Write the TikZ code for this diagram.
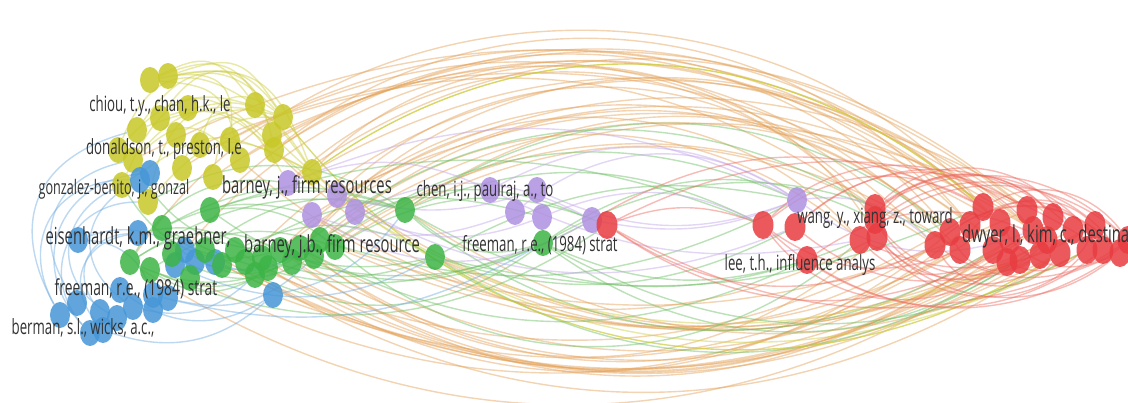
\documentclass[tikz,border=0pt]{standalone}
\usepackage{fontspec}
\newfontfamily\vosfont[FakeStretch=0.63]{Open Sans}
\usepackage{tikz}
\usetikzlibrary{shapes.geometric}

\definecolor{vYel}{RGB}{200,200,40}
\definecolor{vGrn}{RGB}{60,180,70}
\definecolor{vBlu}{RGB}{70,150,215}
\definecolor{vPur}{RGB}{175,145,225}
\definecolor{vRed}{RGB}{232,60,65}
\definecolor{eYel}{RGB}{205,205,60}
\definecolor{eOrg}{RGB}{228,160,85}
\definecolor{eGrn}{RGB}{105,190,95}
\definecolor{eBlu}{RGB}{110,170,225}
\definecolor{ePur}{RGB}{195,165,235}
\definecolor{eRed}{RGB}{238,105,95}

\pgfdeclarelayer{bg}
\pgfdeclarelayer{edges}
\pgfsetlayers{bg,edges,main}

\begin{document}
\begin{tikzpicture}[x=1pt, y=-1pt,
  dot/.style={ellipse, inner sep=0pt, minimum width=20pt, minimum height=26pt, fill opacity=.85},
  yel/.style={dot, fill=vYel}, grn/.style={dot, fill=vGrn}, blu/.style={dot, fill=vBlu},
  pur/.style={dot, fill=vPur}, red/.style={dot, fill=vRed, minimum width=21pt, minimum height=28pt},
  edge/.style={line width=1.4pt, opacity=.45},
  eyel/.style={edge, draw=eYel}, eorg/.style={edge, draw=eOrg}, egrn/.style={edge, draw=eGrn},
  eblu/.style={edge, draw=eBlu}, epur/.style={edge, draw=ePur}, ered/.style={edge, draw=eRed},
  lbl/.style={font=\vosfont\fontsize{21}{21}\selectfont, text=black!80, inner sep=0pt},
  biglbl/.style={lbl, font=\vosfont\fontsize{23.5}{23.5}\selectfont}]
\begin{pgfonlayer}{bg}
\fill[white] (0,0) rectangle (1128,403);
\end{pgfonlayer}
\useasboundingbox (0,0) rectangle (1128,403);

% clusters
\foreach \n/\x/\y in {y1/150/80, y2/168/76, y3/137/130, y4/160/118, y5/188/108, y6/283/117,
    y7/272/135, y8/274/150, y9/133/160, y10/182/168, y11/213/177, y12/240/160, y13/312/172,
    y14/122/185, y15/148/202, y16/230/140, y17/200/145, y18/255/105, y19/176/135, y20/118/150}
  \node[yel] (\n) at (\x,\y) {};
\foreach \n/\x/\y in {b1/78/240, b2/140/180, b3/150/173, b4/138/233, b5/175/265, b6/195/262,
    b7/215/262, b8/60/315, b9/77/303, b10/90/333, b11/103/330, b12/117/318, b13/133/307,
    b14/153/310, b15/153/295, b16/273/295, b17/185/250, b18/168/298, b19/120/290, b20/100/312}
  \node[blu] (\n) at (\x,\y) {};
\foreach \n/\x/\y in {g1/210/210, g2/162/228, g3/130/262, g4/150/270, g5/190/278, g6/222/265,
    g7/245/262, g8/262/258, g9/280/250, g10/300/248, g11/320/240, g12/335/247, g13/405/210,
    g14/435/257, g15/543/243, g16/255/275, g17/172/254, g18/205/250, g19/235/250, g20/268/268,
    g21/292/262, g22/314/256}
  \node[grn] (\n) at (\x,\y) {};
\foreach \n/\x/\y in {p1/288/183, p2/312/215, p3/337/195, p4/355/212, p5/490/190, p6/515/212,
    p7/537/190, p8/542/217, p9/592/220, p10/797/200}
  \node[pur] (\n) at (\x,\y) {};
\foreach \n/\x/\y in {r1/607/225, r2/763/225, r3/795/227, r4/807/260, r5/860/240, r6/875/220,
    r7/935/245, r8/960/250, r9/983/207, r10/1000/223, r11/993/250, r12/1007/262, r13/1020/260,
    r14/1033/230, r15/1047/240, r16/1060/253, r17/1073/230, r18/1087/250, r19/1103/250,
    r20/1120/253, r21/1128/240, r22/1027/210, r23/1053/217, r24/877/237, r25/1095/225,
    r26/950/232, r27/970/225, r28/1010/240, r29/875/208, r30/1040/255}
  \node[red] (\n) at (\x,\y) {};

% labels
\node[lbl] (lChiou) at (160,106) {chiou, t.y., chan, h.k., le};
\node[lbl] (lDonald) at (164,149) {donaldson, t., preston, l.e};
\node[lbl, font=\vosfont\fontsize{20}{20}\selectfont] (lGonz) at (114,189) {gonzalez-benito, j., gonzal};
\node[biglbl] (lBarJ) at (307,187) {barney, j., firm resources};
\node[biglbl] (lEisen) at (138,238) {eisenhardt, k.m., graebner,};
\node[biglbl] (lBarJB) at (332,246) {barney, j.b., firm resource};
\node[lbl] (lChen) at (485,191) {chen, i.j., paulraj, a., to};
\node[lbl] (lFreeM) at (540,245) {freeman, r.e., (1984) strat};
\node[lbl, font=\vosfont\fontsize{22}{22}\selectfont] (lFreeL) at (136,289) {freeman, r.e., (1984) strat};
\node[lbl] (lBerman) at (83,328) {berman, s.l., wicks, a.c.,};
\node[lbl] (lWang) at (875,218) {wang, y., xiang, z., toward};
\node[lbl] (lLee) at (800,265) {lee, t.h., influence analys};
\node[biglbl, anchor=west] (lDwyer) at (962,236) {dwyer, l., kim, c., destina};

\begin{pgfonlayer}{edges}
% long arcs over the top
\foreach \a/\b/\t in {y13/r14/34, p1/r22/38, p1/r6/46, g9/r14/36, g9/r26/42, g11/r10/32,
    g11/r5/40, g13/r7/30, g13/r27/36, p3/r14/28, p3/r29/44, y8/r10/38, y8/r27/44, g12/r22/30,
    g10/r9/46, g22/r8/34, p2/r23/32, p4/r26/38, y7/r9/30, y12/r22/34, y16/r7/36, y6/r29/26,
    y11/r8/40, g7/r14/44, g1/r26/48, y13/r24/52, g21/r5/50, y10/r10/36, y17/r13/30, g3/r9/52,
    b17/r27/48, y9/r22/30}
  \draw[eorg] (\a) to[bend left=\t] (\b);
% long arcs underneath
\foreach \a/\b/\t in {g9/r14/-32, g7/r9/-28, g10/r28/-30, g14/r7/-30, b16/r10/-26, g8/r23/-34,
    g12/r17/-24, y13/r13/-30, g6/r15/-28, g16/r16/-32, g11/r22/-22, b7/r16/-26, g9/r11/-36,
    p2/r25/-28, g14/r12/-24, g5/r8/-28, y12/r24/-34, g13/r18/-30, g3/r12/-33, g20/r26/-36,
    g21/r28/-34, g19/r30/-30, g22/r24/-40, g10/r27/-38, y8/r8/-36, g18/r13/-28}
  \draw[eorg] (\a) to[bend left=\t] (\b);
\foreach \a/\b/\t in {g14/r13/-32, g15/r15/-36, g13/r11/-34, g12/r5/-40, g15/r18/-28}
  \draw[egrn] (\a) to[bend left=\t] (\b);
\draw[eyel, opacity=.8] (y13) to[bend left=38] (r9);
\draw[eyel, opacity=.7] (y6) to[bend left=-42] (r16);
\draw[eyel] (y8) to[bend left=-30] (r13);
\draw[eyel] (y7) to[bend left=-36] (r18);
% middle
\foreach \a/\b/\t in {g13/r2/24, g15/r4/-20, g14/r3/-22, g11/p9/28, g9/g15/-24, g1/g13/18,
    g13/r5/-26, g14/p10/20, g15/r6/30, g8/g14/-20, g12/r1/26, g10/r4/-26, g3/g13/22, g2/g15/-24,
    g15/r8/30, g14/r9/-18, g1/r2/20, g16/g15/-30, g11/p10/-22, g13/g15/-30, g6/p8/24, g4/r1/-28,
    g10/r29/34, g22/p10/30, g13/r26/36, g19/g14/26, g21/p9/-20}
  \draw[egrn] (\a) to[bend left=\t] (\b);
\foreach \a/\b/\t in {p1/p5/22, p3/p7/-16, p4/p9/26, p2/p6/-20, p5/p10/30, p7/p10/-22, p8/r2/24,
    p6/p10/36, p9/p10/-16, p1/p10/24, p4/p8/-22, p3/r3/-26, p10/r7/24, p10/r14/-28, p2/p9/-30,
    p5/r5/-18}
  \draw[epur] (\a) to[bend left=\t] (\b);
% right cluster
\foreach \a/\b/\t in {r2/r14/46, r2/r20/-38, r3/r17/42, r4/r19/-34, r5/r21/40, r6/r16/-48,
    r2/r9/34, r3/r13/-30, r5/r25/-28, r7/r20/44, r7/r21/-34, r4/r15/30, r1/r2/20, r1/r7/-30,
    r2/r8/-28, r6/r23/48, r26/r20/40, r5/r11/-40, r3/r22/38, r2/r12/-44, r8/r25/50, r10/r21/-50,
    r1/r14/-34, r1/r19/30, p9/r9/28, r1/r20/-26, r9/r21/40, r12/r25/-45, r29/r19/44, r24/r20/-42,
    r29/r21/36, r24/r18/-50, r5/r23/55, r26/r30/-50, r27/r19/48, r7/r16/-55, r29/r17/50,
    r24/r15/-46, r5/r20/50, r6/r30/-40}
  \draw[ered] (\a) to[bend left=\t] (\b);
% left cluster
\foreach \a/\b/\t in {y1/y13/40, y2/y8/44, y1/y7/46, y3/y6/50, y4/y13/36, y9/y12/42, y14/y6/44,
    y15/y13/38, y10/y7/50, y3/p1/40, y2/y16/50, y1/y12/36, y9/y8/44, y14/y13/30, y15/y6/46,
    y4/y6/55, y11/y6/40, y20/y18/50, y19/y13/44, y1/y18/40, y2/y6/38, y20/y8/48, y17/y6/55}
  \draw[eyel] (\a) to[bend left=\t, looseness=1.4] (\b);
\foreach \a/\b/\t in {g3/g11/-30, g2/g9/-26, g1/g12/22, g4/g10/-32, g2/g13/24, g3/g9/28,
    g1/g14/-24, g4/g12/26, y9/g9/-30, y14/g7/-26, b4/g8/22, g2/p2/20, y15/g13/30, g3/p1/34,
    g17/g22/-30, g18/g13/26, b17/g21/-28, g4/g20/-34}
  \draw[egrn] (\a) to[bend left=\t] (\b);
\foreach \a/\b/\t in {b8/b2/60, b10/b3/64, b9/y9/56, b11/b4/60, b12/y14/62, b13/b2/58,
    b10/y15/66, b8/y3/52, b20/b4/60}
  \draw[eblu] (\a) to[bend left=\t, looseness=1.3] (\b);
\foreach \a/\b/\t in {b16/g13/-20, b5/g14/-26, b15/g15/-22, b7/g10/-30, b6/g11/-24, b13/g16/-28,
    b11/b16/-30, b14/b1/-40, b1/b6/30, b18/g22/-30, b19/b16/-34}
  \draw[eblu] (\a) to[bend left=\t] (\b);
\end{pgfonlayer}
\end{tikzpicture}
\end{document}
